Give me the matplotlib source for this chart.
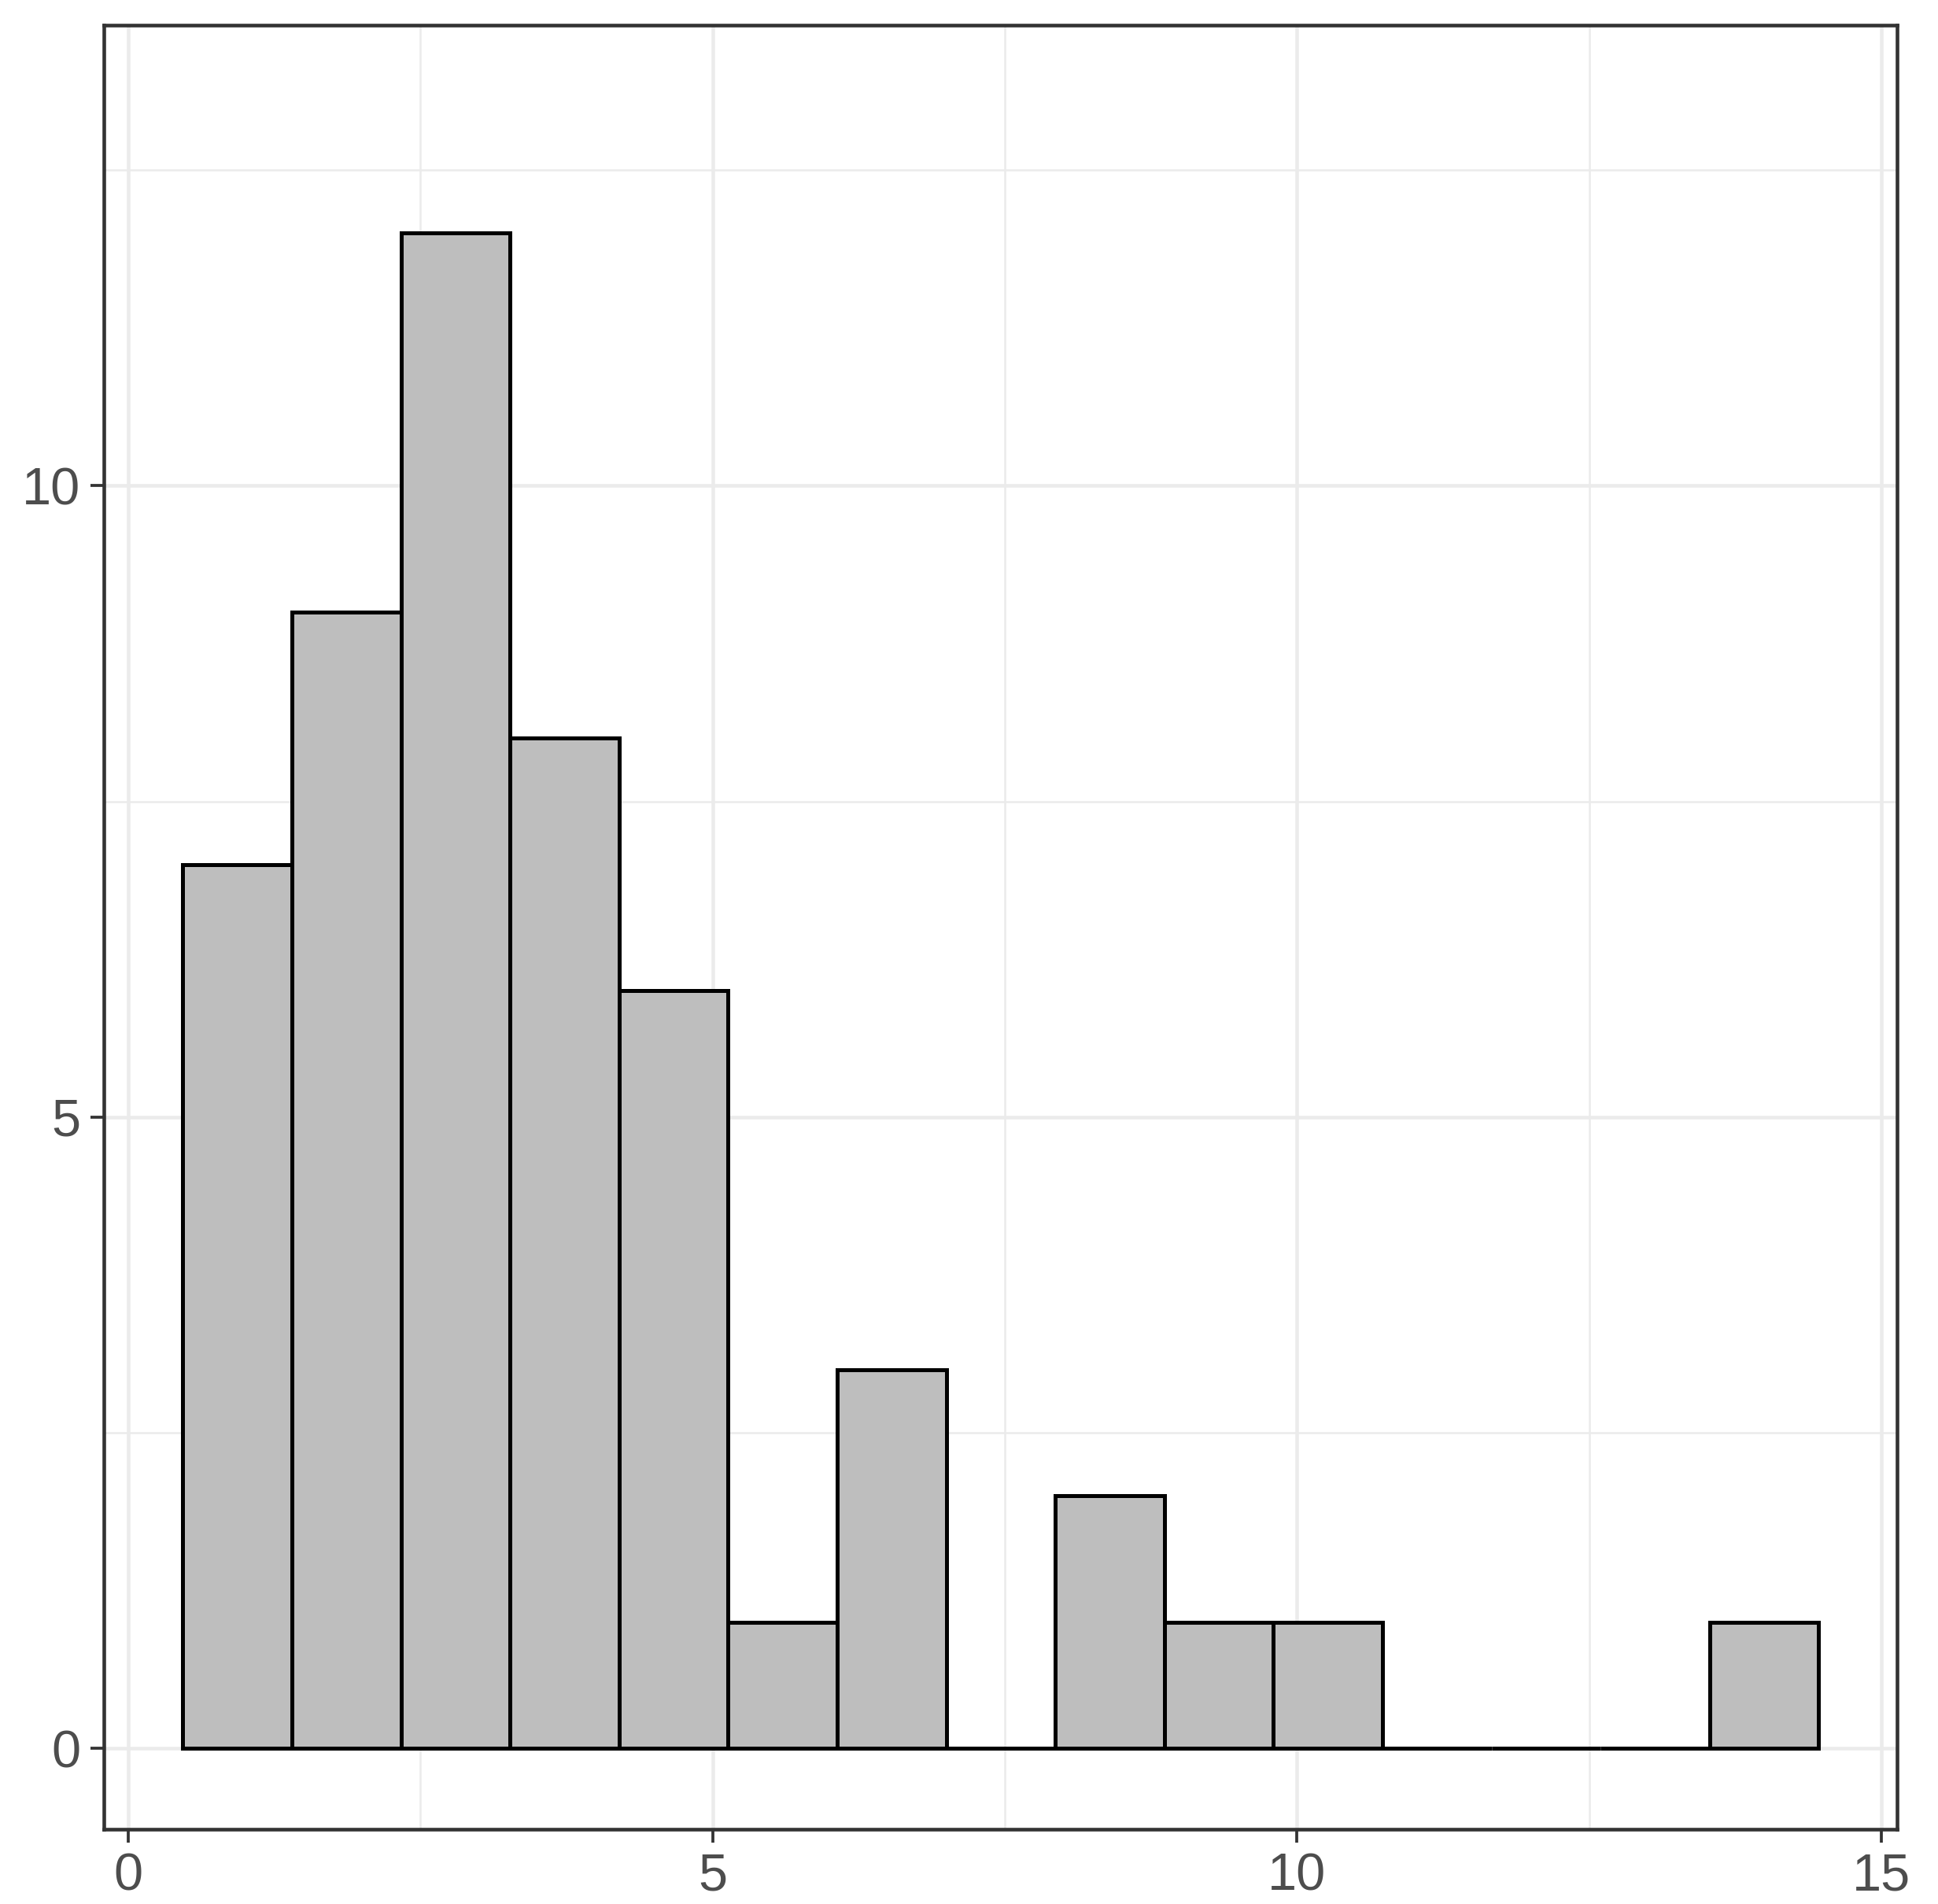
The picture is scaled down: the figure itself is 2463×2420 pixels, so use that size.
import numpy as np
import matplotlib
matplotlib.use('Agg')
from matplotlib import pyplot as plt

# histogram bins
bin_left = 0.467
bin_width = 0.933
counts = [7, 9, 12, 8, 6, 1, 3, 0, 2, 1, 1, 0, 0, 0, 1]

x_ticks = [0, 5, 10, 15]
y_ticks = [0, 5, 10]

plt.rcParams['font.family'] = ['Liberation Sans', 'DejaVu Sans']

fig = plt.figure(figsize=(2463 / 300, 2420 / 300), dpi=300)
ax = fig.add_axes([0.0535, 0.0393, 0.9787 - 0.0535, 0.9869 - 0.0393])

lefts = bin_left + bin_width * np.arange(len(counts))
ax.bar(lefts, counts, width=bin_width, align='edge', color='#bebebe',
       edgecolor='black', linewidth=1.2, zorder=3)

ax.set_xlim(-0.21, 15.13)
ax.set_ylim(-0.64, 13.65)
ax.set_xticks(x_ticks)
ax.set_yticks(y_ticks)
ax.set_xticks([2.5, 7.5, 12.5], minor=True)
ax.set_yticks([2.5, 7.5, 12.5], minor=True)
ax.grid(which='major', color='#ebebeb', linewidth=1.1, zorder=0)
ax.grid(which='minor', color='#ebebeb', linewidth=0.6, zorder=0)
ax.tick_params(which='minor', length=0)
ax.tick_params(which='major', length=4, width=0.9, color='#333333',
               labelsize=16, labelcolor='#4d4d4d', pad=3)
for s in ax.spines.values():
    s.set_color('#333333')
    s.set_linewidth(1.1)

fig.savefig('out.png', dpi=300)
